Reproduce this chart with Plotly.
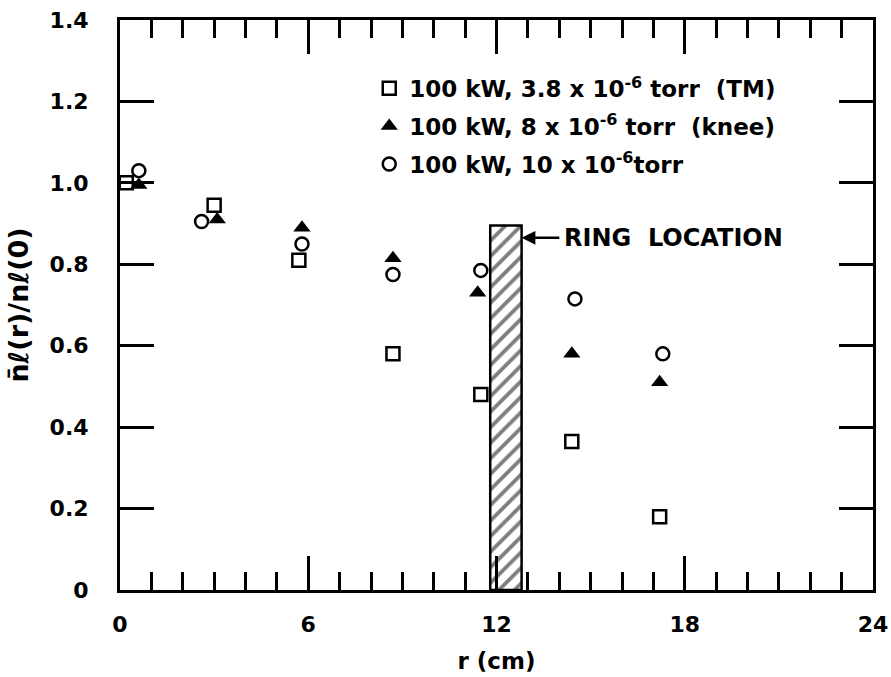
import plotly.graph_objects as go

# Radial profiles of line density, normalised to the on-axis value
r_tm = [0.2, 3.0, 5.7, 8.7, 11.5, 14.4, 17.2]
y_tm = [1.00, 0.945, 0.81, 0.58, 0.48, 0.365, 0.18]

r_knee = [0.6, 3.1, 5.8, 8.7, 11.4, 14.4, 17.2]
y_knee = [0.995, 0.91, 0.89, 0.815, 0.73, 0.58, 0.51]

r_10 = [0.6, 2.6, 5.8, 8.7, 11.5, 14.5, 17.3]
y_10 = [1.03, 0.905, 0.85, 0.775, 0.785, 0.715, 0.58]

labels = [
    "100 kW, 3.8 x 10<sup>-6</sup> torr\u00a0 (TM)",
    "100 kW, 8 x 10<sup>-6</sup> torr\u00a0 (knee)",
    "100 kW, 10 x 10<sup>-6</sup>torr",
]

# Ring position (centre, width in cm) and drawn height
ring_r = [12.3]
ring_w = [1.0]
ring_h = [0.895]

x_ticks = [0, 6, 12, 18, 24]
y_ticks = [0, 0.2, 0.4, 0.6, 0.8, 1.0, 1.2, 1.4]
y_tick_text = ["0", "0.2", "0.4", "0.6", "0.8", "1.0", "1.2", "1.4"]

FONT = "DejaVu Sans"
INK = "black"

fig = go.Figure()

fig.add_trace(go.Bar(
    x=ring_r, y=ring_h, width=ring_w, base=0,
    marker=dict(color="white", line=dict(color=INK, width=2.5),
                pattern=dict(shape="/", fgcolor=INK, bgcolor="white",
                             size=11, solidity=0.35)),
    showlegend=False, hoverinfo="skip",
))

fig.add_trace(go.Scatter(
    x=r_tm, y=y_tm, mode="markers", name=labels[0], legendgroup="a",
    marker=dict(symbol="square-open", size=13, color=INK, line=dict(width=2.5)),
))
fig.add_trace(go.Scatter(
    x=r_knee, y=y_knee, mode="markers", name=labels[1], legendgroup="b",
    marker=dict(symbol="triangle-up", size=15, color=INK),
))
fig.add_trace(go.Scatter(
    x=r_10, y=y_10, mode="markers", name=labels[2], legendgroup="c",
    marker=dict(symbol="circle-open", size=13, color=INK, line=dict(width=2.5)),
))

# Arrow pointing at the ring, with its label
fig.add_annotation(x=12.8, y=0.865, ax=14.05, ay=0.865, axref="x", ayref="y",
                   text="", showarrow=True, arrowhead=2, arrowsize=1.1,
                   arrowwidth=2.5, arrowcolor=INK)
fig.add_annotation(x=14.1, y=0.865, xanchor="left", yanchor="middle",
                   text="RING\u00a0 LOCATION", showarrow=False,
                   font=dict(family=FONT, size=24, color=INK, weight="bold"))

axis_common = dict(
    showline=True, linecolor=INK, linewidth=3, mirror="ticks",
    ticks="inside", tickcolor=INK, tickwidth=2.5,
    showgrid=False, zeroline=False,
    tickfont=dict(family=FONT, size=22, color=INK, weight="bold"),
    ticklabeloverflow="allow",
)

fig.update_xaxes(
    range=[0, 24], tickvals=x_ticks, ticklen=34, ticklabelstandoff=13,
    minor=dict(dtick=1, ticks="inside", ticklen=18, tickwidth=2.5,
               tickcolor=INK, showgrid=False),
    title=dict(text="r (cm)",
               font=dict(family=FONT, size=23, color=INK, weight="bold"),
               standoff=17),
    **axis_common,
)
fig.update_yaxes(
    range=[0, 1.4], tickvals=y_ticks, ticktext=y_tick_text, ticklen=34,
    ticklabelstandoff=24,
    title=dict(text="n\u0304\u2113(r)/n\u2113(0)",
               font=dict(family=FONT, size=27, color=INK, weight="bold"),
               standoff=14),
    **axis_common,
)

fig.update_layout(
    width=891, height=677,
    margin=dict(l=120, r=18, t=20, b=87, autoexpand=False),
    paper_bgcolor="white", plot_bgcolor="white",
    showlegend=True,
    legend=dict(x=0.331, y=0.918, xanchor="left", yanchor="top",
                bgcolor="rgba(0,0,0,0)", traceorder="grouped",
                tracegroupgap=5,
                font=dict(family=FONT, size=23, color=INK, weight="bold")),
)

fig.write_html("out.html")
